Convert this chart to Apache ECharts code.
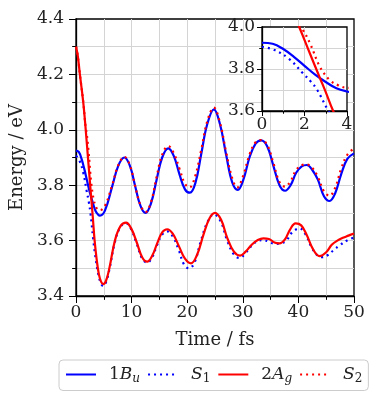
<!DOCTYPE html>
<html>
<head>
<meta charset="utf-8">
<script src="https://cdn.jsdelivr.net/npm/echarts@6/dist/echarts.min.js"></script>
<style>
    html, body {margin: 0; padding: 0; background: #fff}
    #chart {width: 382px; height: 406px}
</style>
</head>
<body>
<div id="chart"></div>
<script>
// 1Bu (diabatic, solid blue)
var t_bu = [0, 0.5, 1.0, 1.5, 2.0, 2.5, 3.0, 3.5, 4.0, 4.3, 5.2, 6.5, 7.6, 8.7, 9.7, 10.6, 11.6, 12.5, 13.5, 14.5, 15.5, 16.6, 17.6, 18.6, 19.6, 20.5, 21.5, 22.5, 23.6, 24.8, 25.9, 27.0, 28.1, 29.1, 30.1, 31.2, 32.3, 33.3, 34.4, 35.5, 36.6, 37.6, 38.6, 39.6, 40.6, 41.5, 42.5, 43.5, 44.6, 45.6, 46.6, 47.7, 48.8, 50];
var e_bu = [3.925, 3.920, 3.895, 3.858, 3.815, 3.773, 3.738, 3.708, 3.693, 3.690, 3.708, 3.795, 3.870, 3.900, 3.870, 3.800, 3.725, 3.700, 3.735, 3.820, 3.900, 3.933, 3.905, 3.840, 3.785, 3.773, 3.810, 3.910, 4.020, 4.074, 4.020, 3.910, 3.810, 3.783, 3.820, 3.900, 3.950, 3.962, 3.940, 3.870, 3.800, 3.780, 3.800, 3.845, 3.868, 3.873, 3.855, 3.820, 3.760, 3.743, 3.770, 3.840, 3.895, 3.915];
// S1 (adiabatic, dotted blue)
var t_s1 = [0, 0.6, 1.3, 1.9, 2.3, 2.6, 3.1, 3.5, 4.0, 4.5, 4.9, 5.4, 6.0, 7.0, 8.0, 9.0, 9.9, 10.9, 11.9, 12.8, 13.7, 14.6, 15.5, 16.4, 17.4, 18.5, 19.4, 20.3, 21.3, 22.4, 23.6, 24.8, 26.0, 27.2, 28.4, 29.4, 30.4, 31.5, 32.6, 33.6, 34.7, 35.8, 36.8, 37.8, 38.9, 40.2, 41.2, 42.4, 43.5, 44.3, 45.3, 46.3, 47.5, 48.7, 50];
var e_s1 = [3.906, 3.890, 3.846, 3.782, 3.740, 3.700, 3.605, 3.540, 3.480, 3.445, 3.436, 3.450, 3.495, 3.595, 3.650, 3.662, 3.642, 3.590, 3.535, 3.520, 3.540, 3.585, 3.622, 3.633, 3.615, 3.565, 3.515, 3.500, 3.520, 3.595, 3.665, 3.695, 3.670, 3.600, 3.550, 3.537, 3.553, 3.580, 3.598, 3.602, 3.596, 3.588, 3.590, 3.600, 3.630, 3.644, 3.625, 3.575, 3.545, 3.540, 3.548, 3.565, 3.584, 3.600, 3.612];
// 2Ag (diabatic, solid red)
var t_ag = [0, 0.3, 0.7, 1.3, 1.75, 2.25, 2.73, 3.0, 3.35, 3.7, 4.1, 4.5, 4.9, 5.4, 6.0, 7.0, 8.0, 9.0, 9.9, 10.9, 11.9, 12.8, 13.7, 14.6, 15.5, 16.4, 17.4, 18.5, 19.6, 20.7, 21.8, 22.9, 24.0, 25.0, 26.1, 27.2, 28.4, 29.5, 30.5, 31.6, 32.7, 33.7, 34.7, 35.7, 36.6, 37.6, 38.5, 39.5, 40.5, 41.5, 42.6, 43.8, 45.0, 46.0, 47.0, 48.0, 49.0, 50];
var e_ag = [4.300, 4.270, 4.200, 4.100, 4.000, 3.875, 3.756, 3.690, 3.600, 3.535, 3.480, 3.452, 3.443, 3.455, 3.500, 3.600, 3.652, 3.665, 3.645, 3.595, 3.540, 3.524, 3.545, 3.590, 3.630, 3.641, 3.625, 3.580, 3.535, 3.518, 3.550, 3.620, 3.680, 3.700, 3.675, 3.610, 3.560, 3.546, 3.560, 3.585, 3.602, 3.608, 3.606, 3.593, 3.590, 3.605, 3.640, 3.662, 3.655, 3.620, 3.570, 3.544, 3.558, 3.585, 3.600, 3.610, 3.618, 3.626];
// S2 (adiabatic, dotted red)
var t_s2 = [0, 0.3, 0.7, 1.3, 1.75, 1.9, 2.26, 2.73, 3.2, 3.6, 3.95, 4.3, 5.2, 6.5, 7.6, 8.7, 9.7, 10.6, 11.6, 12.5, 13.5, 14.5, 15.5, 16.6, 17.6, 18.6, 19.6, 20.4, 21.4, 22.5, 23.6, 24.8, 25.9, 27.0, 28.1, 29.0, 30.0, 31.2, 32.3, 33.3, 34.4, 35.5, 36.6, 37.6, 38.6, 39.6, 40.6, 41.5, 42.5, 43.5, 44.6, 45.6, 46.6, 47.7, 48.8, 50];
var e_s2 = [4.300, 4.270, 4.200, 4.100, 4.005, 3.990, 3.922, 3.810, 3.746, 3.722, 3.711, 3.710, 3.725, 3.800, 3.872, 3.902, 3.872, 3.800, 3.728, 3.703, 3.740, 3.830, 3.910, 3.941, 3.915, 3.860, 3.805, 3.792, 3.830, 3.925, 4.030, 4.080, 4.025, 3.920, 3.825, 3.792, 3.830, 3.910, 3.955, 3.963, 3.945, 3.880, 3.812, 3.795, 3.815, 3.855, 3.872, 3.875, 3.862, 3.830, 3.778, 3.762, 3.790, 3.860, 3.910, 3.933];

var names = ['1Bu', 'S1', '2Ag', 'S2'];
var labels = {
    '1Bu': '{p|}{r|1}{i|B}{s|u}',
    'S1': '{p|}{i|S}{sr|1}',
    '2Ag': '{p|}{r|2}{i|A}{s|g}',
    'S2': '{p|}{i|S}{sr|2}'
};

var FONT = 'DejaVu Serif';
var grayLine = {color: '#d4d4d4', width: 1};

function pairs(t, e) {
    return t.map(function (v, k) { return [v, e[k]]; });
}

function xAxisFor(g, max, interval, tick, margin, z) {
    return {
        gridIndex: g, type: 'value', min: 0, max: max, interval: interval, z: z,
        axisLine: {show: true, onZero: false, lineStyle: {color: '#000', width: 1.3}},
        axisTick: {show: true, length: tick, lineStyle: {color: '#000', width: 1}},
        minorTick: {show: true, splitNumber: 2, length: tick * 0.55, lineStyle: {color: '#000', width: 1}},
        axisLabel: {color: '#222', fontFamily: FONT, fontSize: 17, margin: margin},
        splitLine: {show: true, showMinLine: false, showMaxLine: false, lineStyle: grayLine},
        minorSplitLine: {show: true, lineStyle: grayLine}
    };
}

function yAxisFor(g, min, max, tick, margin, z) {
    return {
        gridIndex: g, type: 'value', min: min, max: max, interval: 0.2, z: z,
        axisLine: {show: true, onZero: false, lineStyle: {color: '#000', width: 1.3}},
        axisTick: {show: true, length: tick, lineStyle: {color: '#000', width: 1}},
        minorTick: {show: true, splitNumber: 2, length: tick * 0.55, lineStyle: {color: '#000', width: 1}},
        axisLabel: {
            color: '#222', fontFamily: FONT, fontSize: 17, margin: margin,
            formatter: function (v) { return v.toFixed(1); }
        },
        splitLine: {show: true, showMinLine: false, showMaxLine: false, lineStyle: grayLine},
        minorSplitLine: {show: true, lineStyle: grayLine}
    };
}

var styles = {
    '1Bu': {color: '#0000ff', type: 'solid'},
    'S1': {color: '#0000ff', type: [2, 4]},
    '2Ag': {color: '#ff0000', type: 'solid'},
    'S2': {color: '#ff0000', type: [2, 4]}
};
var data = {
    '1Bu': pairs(t_bu, e_bu),
    'S1': pairs(t_s1, e_s1),
    '2Ag': pairs(t_ag, e_ag),
    'S2': pairs(t_s2, e_s2)
};

var series = [];
[0, 1].forEach(function (g) {
    names.forEach(function (n) {
        series.push({
            name: n, type: 'line', xAxisIndex: g, yAxisIndex: g,
            data: data[n], smooth: 0.4, symbol: 'none', clip: true,
            z: g === 0 ? 2 : 6, animation: false,
            itemStyle: {color: styles[n].color},
            lineStyle: {color: styles[n].color, width: 2.2, type: styles[n].type, cap: 'butt'}
        });
    });
});

var mainX = xAxisFor(0, 50, 10, 7, 8, 0);
mainX.name = 'Time / fs';
mainX.nameLocation = 'middle';
mainX.nameGap = 35;
mainX.nameTextStyle = {color: '#222', fontFamily: FONT, fontSize: 18};
var mainY = yAxisFor(0, 3.4, 4.4, 7, 12, 0);
mainY.name = 'Energy / eV';
mainY.nameLocation = 'middle';
mainY.nameGap = 45;
mainY.nameTextStyle = {color: '#222', fontFamily: FONT, fontSize: 18};

var option = {
    backgroundColor: '#fff',
    animation: false,
    grid: [
        {left: 76, top: 19, width: 278, height: 277, show: true, borderColor: '#000', borderWidth: 1.3, z: 0},
        {left: 262, top: 27, width: 85, height: 84, show: true, backgroundColor: '#fff', borderColor: '#000', borderWidth: 1.3, z: 4}
    ],
    xAxis: [mainX, xAxisFor(1, 4, 2, 5, 5, 5)],
    yAxis: [mainY, yAxisFor(1, 3.6, 4.0, 5, 7, 5)],
    legend: {
        left: 59, top: 360,
        data: names,
        itemWidth: 30, itemHeight: 14, itemGap: 7,
        padding: [6, 6, 6, 6],
        itemStyle: {color: 'transparent', borderColor: 'transparent', borderWidth: 0},
        backgroundColor: '#fff', borderColor: '#cccccc', borderWidth: 1, borderRadius: 4,
        formatter: function (name) { return labels[name]; },
        textStyle: {
            color: '#222', fontFamily: FONT, fontSize: 17,
            rich: {
                p: {width: 8, lineHeight: 20},
                r: {fontFamily: FONT, fontSize: 17, lineHeight: 20, color: '#222'},
                i: {fontFamily: FONT, fontSize: 17, lineHeight: 20, fontStyle: 'italic', color: '#222'},
                s: {fontFamily: FONT, fontSize: 12, lineHeight: 12, fontStyle: 'italic', verticalAlign: 'bottom', color: '#222'},
                sr: {fontFamily: FONT, fontSize: 12, lineHeight: 12, verticalAlign: 'bottom', color: '#222'}
            }
        }
    },
    series: series
};

echarts.init(document.getElementById('chart')).setOption(option);
</script>
</body>
</html>
